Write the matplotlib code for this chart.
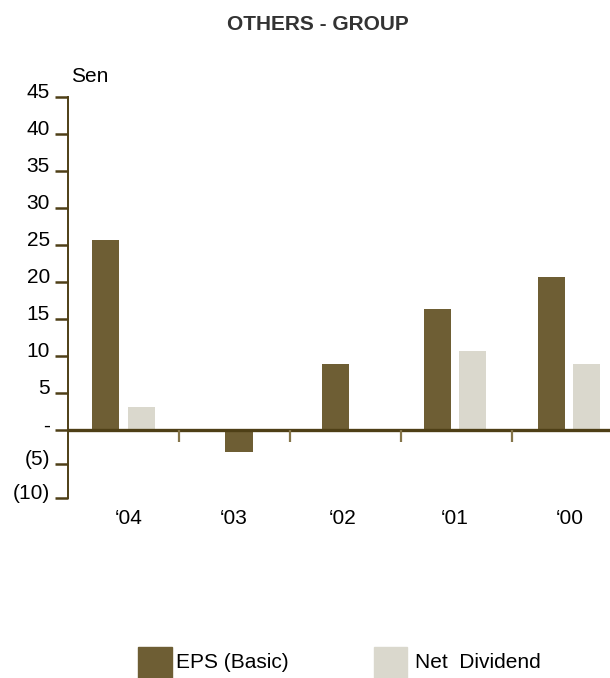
import matplotlib
matplotlib.use('Agg')
import matplotlib.pyplot as plt
from matplotlib.patches import Rectangle
from matplotlib.transforms import offset_copy
import numpy as np

plt.rcParams['font.family'] = ['Liberation Sans', 'DejaVu Sans']

years = ['\u201804', '\u201803', '\u201802', '\u201801', '\u201800']
eps_basic = [25.7, -3.3, 8.9, 16.3, 20.6]
net_dividend = [3.1, 0, 0, 10.6, 8.9]
ytick_vals = [-10, -5, 0, 5, 10, 15, 20, 25, 30, 35, 40, 45]
ytick_text = ['(10)', '(5)', '-', '5', '10', '15', '20', '25', '30', '35', '40', '45']

# bar offsets inside each year slot (the years without a dividend sit differently)
eps_shift = [-0.16, 0.04, -0.09, -0.17, -0.145]
div_shift = [0.16, 0.16, 0.16, 0.145, 0.17]
label_shift = [0.05, -0.01, -0.03, -0.02, 0.02]
bar_w = 0.245

eps_col = '#6E5E34'
div_col = '#DAD8CD'
axis_col = '#4E3F16'

# the negative part of the axis is drawn a bit tighter than the positive part
neg_ratio = 6.77 / 7.407


def fwd(y):
    y = np.asarray(y, dtype=float)
    return np.where(y < 0, y * neg_ratio, y)


def inv(y):
    y = np.asarray(y, dtype=float)
    return np.where(y < 0, y / neg_ratio, y)


fig = plt.figure(figsize=(6.1, 6.78), dpi=100)
ax = fig.add_axes([68/610, 180.3/678, 555/610, 401/678])
ax.set_yscale('function', functions=(fwd, inv))

x = np.arange(len(years)) + 0.5
ax.bar(x + np.array(eps_shift), eps_basic, width=bar_w, color=eps_col, zorder=2)
ax.bar(x + np.array(div_shift), net_dividend, width=bar_w, color=div_col, zorder=2)

ax.set_xlim(0, 5)
ax.set_ylim(-10, 45)

# zero line with the category ticks hanging below it
ax.axhline(0, color=axis_col, lw=2.4, zorder=3)
ax.vlines([1, 2, 3, 4], -1.8, 0, color='#857549', lw=1.6, zorder=3)

# year labels sit under the bottom of the axis
for xi, sh, lab in zip(x, label_shift, years):
    ax.text(xi + sh, -0.053, lab, ha='center', va='center', fontsize=15,
            clip_on=False, transform=ax.get_xaxis_transform())

for s in ['top', 'right', 'bottom']:
    ax.spines[s].set_visible(False)
ax.spines['left'].set_color(axis_col)
ax.spines['left'].set_linewidth(1.4)
ax.set_xticks([])
ax.set_yticks(ytick_vals)
ax.set_yticklabels(ytick_text)
ax.minorticks_off()
ax.tick_params(axis='y', direction='out', length=9.6, width=1.8, color=axis_col,
               pad=3.5, labelsize=15)
for lab in ax.get_yticklabels():
    lab.set_transform(offset_copy(lab.get_transform(), fig=fig, x=0, y=6, units='dots'))

fig.text(71/610, 1 - 77/678, 'Sen', ha='left', va='center', fontsize=15)
fig.text(318/610, 1 - 25/678, 'OTHERS - GROUP', ha='center', va='center',
         fontsize=15, fontweight='bold', color='#333333')

# legend drawn as plain swatches along the bottom
fig.add_artist(Rectangle((138/610, 0), 34/610, 31/678, transform=fig.transFigure,
                         color=eps_col))
fig.text(176/610, 1 - 662/678, 'EPS (Basic)', ha='left', va='center', fontsize=15)
fig.add_artist(Rectangle((374/610, 0), 33/610, 31/678, transform=fig.transFigure,
                         color=div_col))
fig.text(415/610, 1 - 662/678, 'Net  Dividend', ha='left', va='center', fontsize=15)

fig.savefig('out.png', dpi=100)
